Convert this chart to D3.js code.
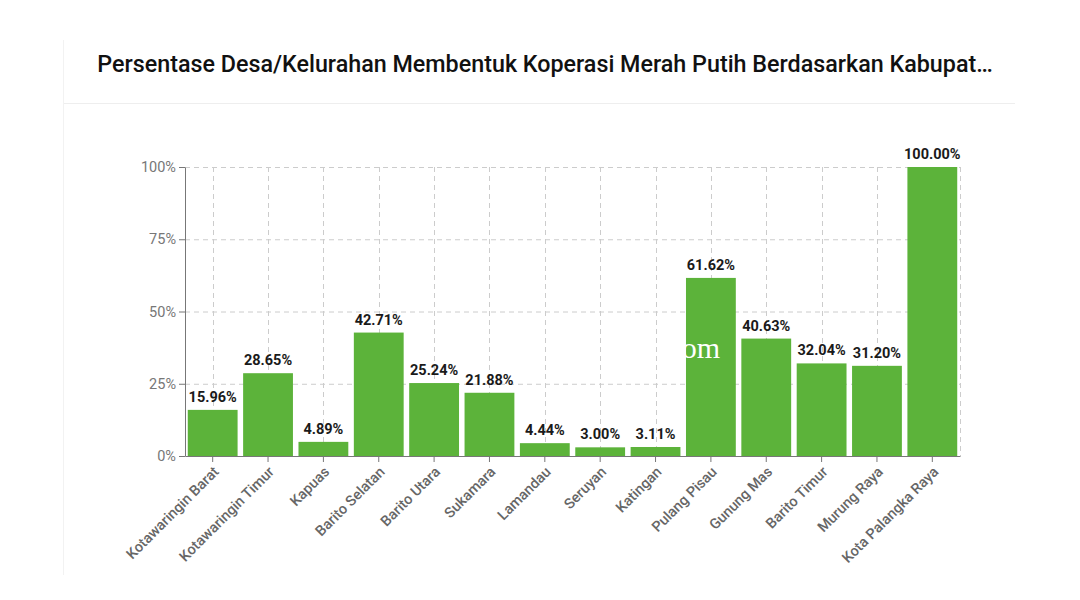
<!DOCTYPE html>
<html><head><meta charset="utf-8">
<script src="https://cdn.jsdelivr.net/npm/d3@7"></script>
<style>body{margin:0;background:#fff;font-family:Roboto,"Noto Sans",sans-serif}</style>
</head><body><svg id="c" width="1080" height="600"></svg>
<script>
const categories=["Kotawaringin Barat","Kotawaringin Timur","Kapuas","Barito Selatan","Barito Utara","Sukamara","Lamandau","Seruyan","Katingan","Pulang Pisau","Gunung Mas","Barito Timur","Murung Raya","Kota Palangka Raya"];
const values=[15.96,28.65,4.89,42.71,25.24,21.88,4.44,3.00,3.11,61.62,40.63,32.04,31.20,100.00];
const yTicks=[0,25,50,75,100];
const title="Persentase Desa/Kelurahan Membentuk Koperasi Merah Putih Berdasarkan Kabupat…";

const svg=d3.select("#c");
svg.append("line").attr("x1",63).attr("x2",1015).attr("y1",103.5).attr("y2",103.5).attr("stroke","#eeeeee");
svg.append("line").attr("x1",63.5).attr("x2",63.5).attr("y1",40).attr("y2",575).attr("stroke","#f2f2f2");
svg.append("text").attr("x",545).attr("y",72).attr("text-anchor","middle")
  .attr("font-size",23.3).attr("font-weight",500).attr("fill","#111").text(title);

const L=185,R=960,T=167,B=456;
const x=d3.scaleBand().domain(categories).range([L,R]).paddingInner(0.1).paddingOuter(0.05);
const y=d3.scaleLinear().domain([0,100]).range([B,T]);
const g=svg.append("g");
g.selectAll(".hg").data(yTicks.filter(d=>d>0)).join("line")
  .attr("x1",L).attr("x2",R).attr("y1",d=>y(d)+0.5).attr("y2",d=>y(d)+0.5)
  .attr("stroke","#cccccc").attr("stroke-dasharray","5,4");
g.selectAll(".vg").data(categories).join("line")
  .attr("x1",d=>Math.round(x(d)+x.bandwidth()/2)+0.5).attr("x2",d=>Math.round(x(d)+x.bandwidth()/2)+0.5)
  .attr("y1",T).attr("y2",B).attr("stroke","#cccccc").attr("stroke-dasharray","5,4");
g.append("line").attr("x1",R+0.5).attr("x2",R+0.5).attr("y1",T).attr("y2",B).attr("stroke","#cccccc").attr("stroke-dasharray","5,4");
g.selectAll(".bar").data(values).join("rect")
  .attr("x",(d,i)=>x(categories[i])).attr("width",x.bandwidth())
  .attr("y",d=>y(d)).attr("height",d=>B-y(d)).attr("fill","#5cb33a");
g.append("text").attr("x",720).attr("y",358).attr("text-anchor","end")
  .attr("font-family","'Liberation Serif',serif").attr("font-size",30).attr("fill","#ffffff").text("om");
g.selectAll(".lbl").data(values).join("text")
  .attr("x",(d,i)=>x(categories[i])+x.bandwidth()/2).attr("y",d=>y(d)-8)
  .attr("text-anchor","middle").attr("font-size",14.5).attr("font-weight",700).attr("fill","#1a1a1a")
  .text(d=>d.toFixed(2)+"%");
const ya=svg.append("g").attr("transform",`translate(${L},0)`)
  .call(d3.axisLeft(y).tickValues(yTicks).tickFormat(d=>d+"%").tickSize(6).tickSizeOuter(0));
ya.select(".domain").attr("stroke","#777");
ya.selectAll(".tick line").attr("stroke","#777");
ya.selectAll("text").attr("font-size",14.5).attr("fill","#777").attr("font-family","Roboto,sans-serif");
const xa=svg.append("g").attr("transform",`translate(0,${B})`)
  .call(d3.axisBottom(x).tickSize(6).tickSizeOuter(0));
xa.select(".domain").attr("stroke","#777");
xa.selectAll(".tick line").attr("stroke","#777");
xa.selectAll("text").attr("font-size",14.5).attr("font-weight",500).attr("fill","#666")
  .attr("font-family","Roboto,sans-serif")
  .attr("text-anchor","end").attr("dx","-0.2em").attr("dy","0.6em")
  .attr("transform","rotate(-45)").attr("x",-4).attr("y",8);
</script></body></html>
